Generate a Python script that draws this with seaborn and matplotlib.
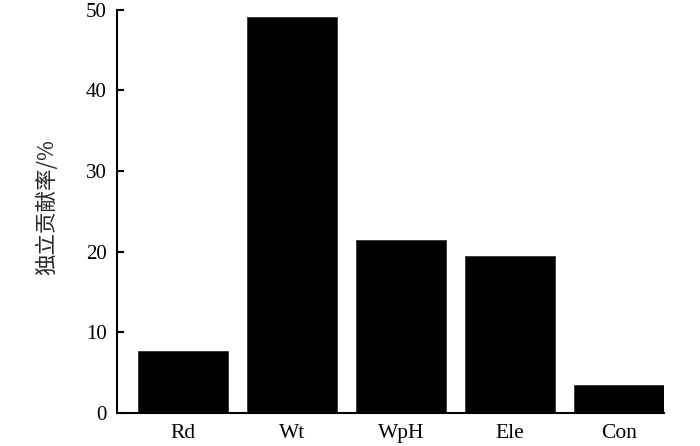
import pandas as pd
import matplotlib
matplotlib.use("Agg")
import matplotlib.pyplot as plt
import seaborn as sns

# Datos
factores = ["Rd", "Wt", "WpH", "Ele", "Con"]
contribucion = [7.7, 49.1, 21.4, 19.5, 3.4]

df = pd.DataFrame({"factor": factores, "contribucion": contribucion})

sns.set_style("ticks")
plt.rcParams["font.family"] = ["Liberation Serif", "Noto Sans CJK SC", "DejaVu Sans"]

fig = plt.figure(figsize=(7, 4.46), dpi=100)
ax = fig.add_axes([0.167, 0.0747, 0.782, 0.903])

sns.barplot(data=df, x="factor", y="contribucion", color="black", saturation=1,
            width=0.83, edgecolor="#333333", linewidth=0.6, ax=ax)

ax.set_xlim(-0.605, 4.415)
ax.set_ylim(0, 50)
ax.set_yticks([0, 10, 20, 30, 40, 50])
ax.set_xlabel("")
ax.set_ylabel("独立贡献率/%", fontsize=15.5, family=["Noto Sans CJK SC", "DejaVu Sans"],
              va="center")
ax.yaxis.set_label_coords(-0.128, 0.51)

for side in ["top", "right"]:
    ax.spines[side].set_visible(False)
for side in ["left", "bottom"]:
    ax.spines[side].set_linewidth(1.5)
    ax.spines[side].set_color("black")

ax.tick_params(axis="y", direction="in", length=5, width=1.5, labelsize=15, colors="black", pad=7.5)
ax.tick_params(axis="x", length=0, labelsize=15.5, colors="black", pad=8.5)

fig.savefig("out.png", dpi=100)
